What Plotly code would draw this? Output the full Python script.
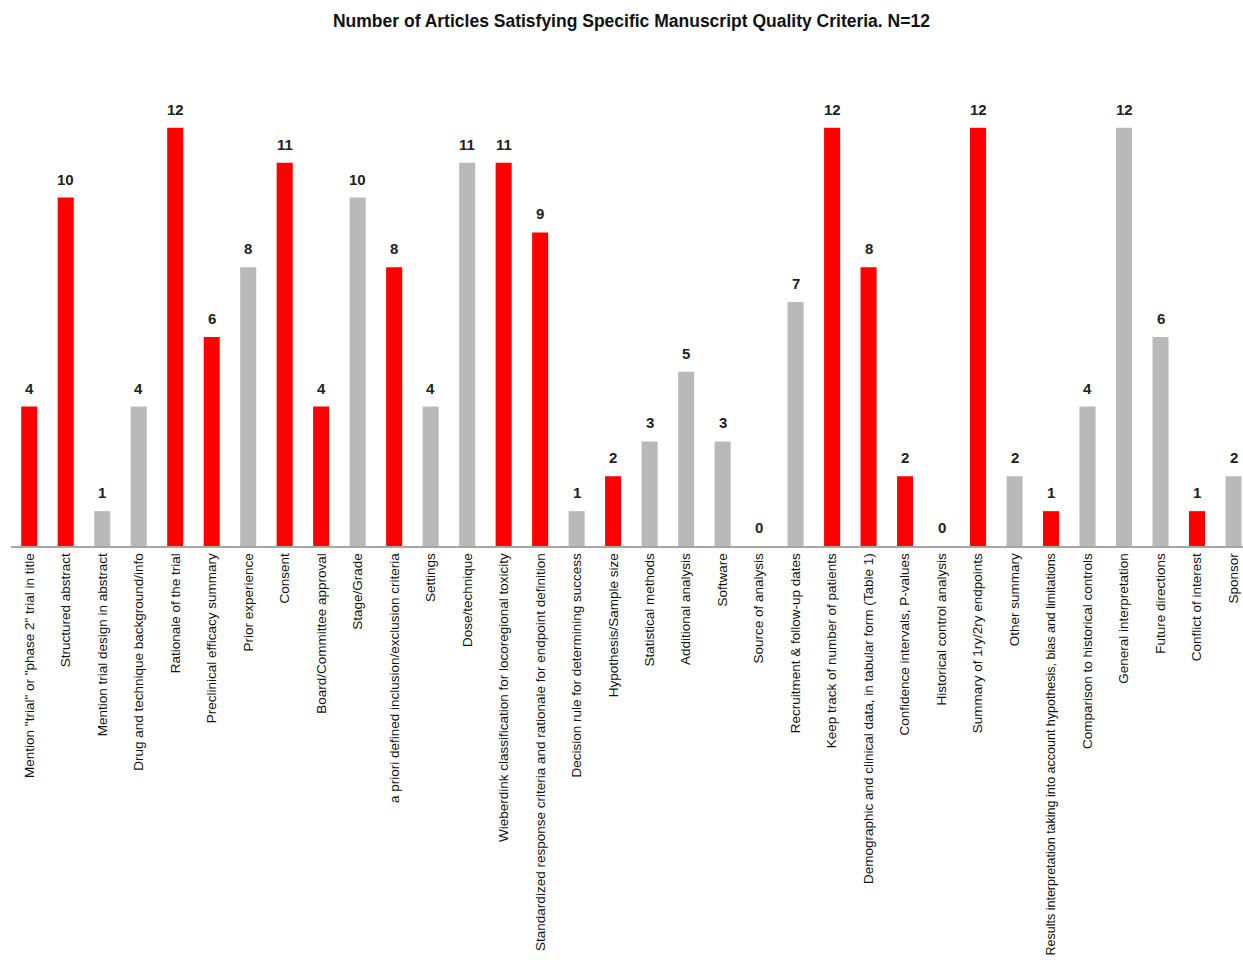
import plotly.graph_objects as go

categories = [
    'Mention "trial" or "phase 2" trial in title',
    "Structured abstract",
    "Mention trial design in abstract",
    "Drug and technique background/info",
    "Rationale of the trial",
    "Preclinical efficacy summary",
    "Prior experience",
    "Consent",
    "Board/Committee approval",
    "Stage/Grade",
    "a priori defined inclusion/exclusion criteria",
    "Settings",
    "Dose/technique",
    "Wieberdink classification for locoregional toxicity",
    "Standardized response criteria and rationale for endpoint definition",
    "Decision rule for determining success",
    "Hypothesis/Sample size",
    "Statistical methods",
    "Additional analysis",
    "Software",
    "Source of analysis",
    "Recruitment & follow-up dates",
    "Keep track of number of patients",
    "Demographic and clinical data, in tabular form (Table 1)",
    "Confidence intervals, P-values",
    "Historical control analysis",
    "Summary of 1ry/2ry endpoints",
    "Other summary",
    "Results interpretation taking into account hypothesis, bias and limitations",
    "Comparison to historical controls",
    "General interpretation",
    "Future directions",
    "Conflict of interest",
    "Sponsor",
]
counts = [4, 10, 1, 4, 12, 6, 8, 11, 4, 10, 8, 4, 11, 11, 9, 1, 2, 3, 5, 3, 0, 7,
          12, 8, 2, 0, 12, 2, 1, 4, 12, 6, 1, 2]
highlighted = [1, 1, 0, 0, 1, 1, 0, 1, 1, 0, 1, 0, 0, 1, 1, 0, 1, 0, 0, 0, 0, 0,
               1, 1, 1, 0, 1, 0, 1, 0, 0, 0, 1, 0]

RED = "#ff0000"
GRAY = "#b9b9b9"
colors = [RED if h else GRAY for h in highlighted]

font_family = "Liberation Sans Narrow, Arial Narrow, Liberation Sans, sans-serif"
xs = list(range(len(categories)))

# very long labels are set slightly smaller so they fit inside the page
ticktext = [
    f"<span style='font-size:12.5px'>{c}</span>" if len(c) > 70 else c
    for c in categories
]

fig = go.Figure(
    go.Bar(
        x=xs,
        y=counts,
        marker=dict(color=colors, line=dict(width=0)),
        width=0.44,
    )
)

for x, v in zip(xs, counts):
    fig.add_annotation(
        x=x, y=v, xref="x", yref="y",
        text=f"<b>{v}</b>",
        showarrow=False,
        yanchor="bottom",
        yshift=8,
        font=dict(family="Liberation Sans, Arial, sans-serif", size=15, color="#222222"),
    )

fig.update_layout(
    width=1243,
    height=978,
    margin=dict(l=11, r=0, t=93, b=432),
    paper_bgcolor="white",
    plot_bgcolor="white",
    showlegend=False,
    title=dict(
        text="<b>Number of Articles Satisfying Specific Manuscript Quality Criteria. N=12</b>",
        x=0.508,
        xanchor="center",
        y=0.979,
        yanchor="middle",
        font=dict(family=font_family, size=17.5, color="#111111"),
    ),
    xaxis=dict(
        tickmode="array",
        tickvals=xs,
        ticktext=ticktext,
        tickangle=-90,
        range=[-0.5, 33.26],
        showline=True,
        linecolor="#a6a6a6",
        linewidth=1.5,
        showgrid=False,
        ticks="",
        automargin=False,
        tickfont=dict(family=font_family, size=13.5, color="#111111"),
    ),
    yaxis=dict(
        range=[0, 13],
        visible=False,
        showgrid=False,
        zeroline=False,
    ),
)

fig.write_html("out.html")
